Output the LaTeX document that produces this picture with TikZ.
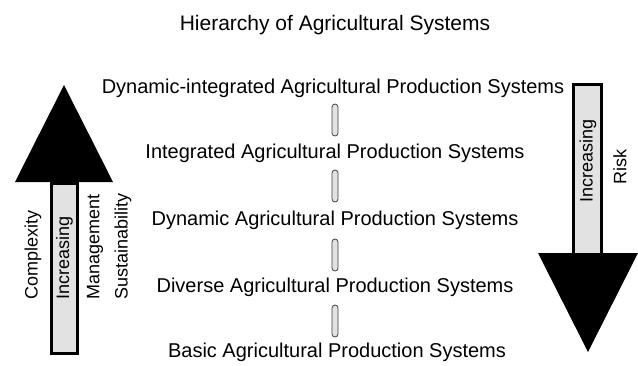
\documentclass[tikz,border=0pt]{standalone}
\usepackage{fontspec}
\setmainfont{Liberation Sans}
\usetikzlibrary{calc}

\definecolor{shaftgray}{HTML}{E2E2E2}

\begin{document}
\begin{tikzpicture}[x=1pt, y=-1pt,
	level/.style={font=\fontsize{20}{24}\selectfont, inner sep=0pt},
	side/.style={font=\fontsize{18}{22}\selectfont, rotate=90, anchor=west, inner sep=0pt},
	link/.style={draw=black!75, fill=shaftgray, line width=0.8pt, rounded corners=3pt,
		minimum width=6pt, minimum height=32pt, inner sep=0pt},
	shaft/.style={draw=black, fill=shaftgray, line width=3pt}]
	\useasboundingbox (0, 0) rectangle (638, 365);

	\node[font=\fontsize{21}{25}\selectfont] (title) at (335, 25) {Hierarchy of Agricultural Systems};

	\node[level] (s5) at (333, 88) {Dynamic-integrated Agricultural Production Systems};
	\node[level] (s4) at (335, 153) {Integrated Agricultural Production Systems};
	\node[level] (s3) at (335, 220) {Dynamic Agricultural Production Systems};
	\node[level] (s2) at (335, 287) {Diverse Agricultural Production Systems};
	\node[level] (s1) at (337, 352) {Basic Agricultural Production Systems};

	\node[link] (l4) at (335, 120) {};
	\node[link] (l3) at (335, 186) {};
	\node[link] (l2) at (335, 255) {};
	\node[link] (l1) at (335, 321) {};

	% up arrow
	\draw[shaft] (51.5, 183) rectangle (77.5, 353.5);
	\fill (15, 182) -- (113, 182) -- (64, 85) -- cycle;

	% down arrow
	\draw[shaft] (573.5, 84.5) rectangle (601.5, 254);
	\fill (538, 253) -- (638, 253) -- (588, 352) -- cycle;

		\begin{scope}
			\node[side] (cplx) at (33, 300) {Complexity};
			\node[side] (incl) at (64.5, 300) {Increasing};
			\node[side] (mgmt) at (95, 300) {Management};
			\node[side] (sust) at (123, 300) {Sustainability};

			\node[side] (incr) at (588, 203) {Increasing};
			\node[side] (risk) at (620, 185) {Risk};
		\end{scope}
\end{tikzpicture}
\end{document}
